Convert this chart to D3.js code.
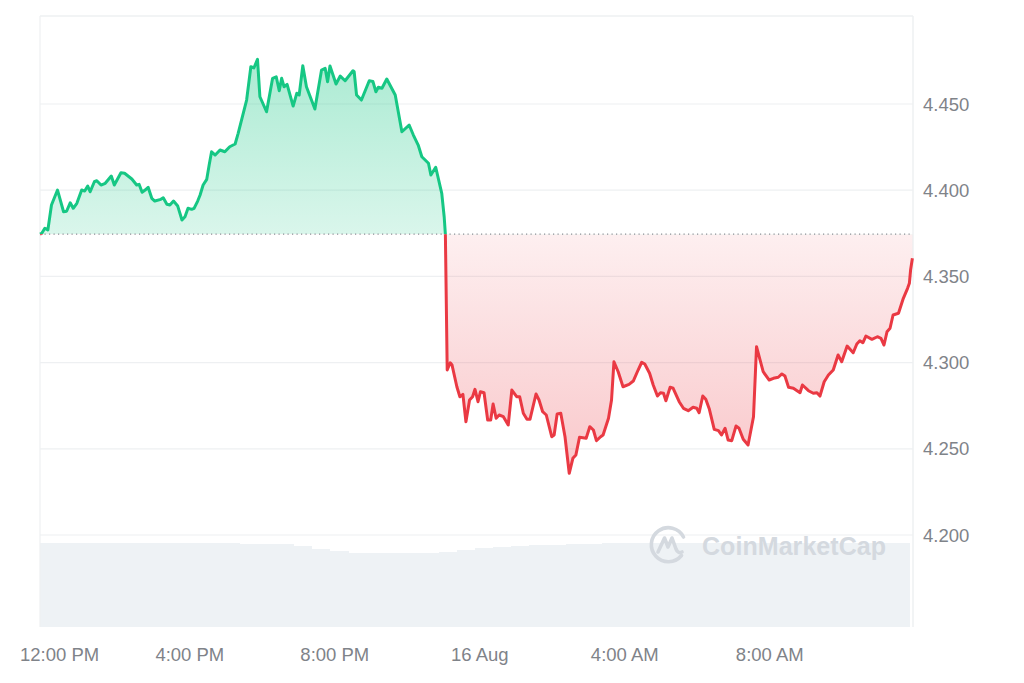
<!DOCTYPE html>
<html>
<head>
<meta charset="utf-8">
<script src="https://cdnjs.cloudflare.com/ajax/libs/d3/7.8.5/d3.min.js"></script>
<style>
  html, body { margin: 0; padding: 0; background: #fff; }
  svg { display: block; }
  text { font-family: "Liberation Sans", Arial, sans-serif; }
</style>
</head>
<body>
<div id="chart"></div>
<script>
// minutes after 11:52 AM, 15 Aug
const minutes = [0, 3, 8, 13, 19, 29, 39, 44, 50, 55, 61, 69, 74, 79, 83, 90, 94, 101, 108, 118,
    123, 134, 140, 152, 160, 164, 169, 174, 179, 185, 190, 200, 204, 210, 215, 221, 228, 235, 240, 245,
    251, 255, 261, 265, 270, 276, 280, 284, 290, 298, 306, 314, 323, 328, 342, 349, 354, 360, 364, 375,
    385, 391, 396, 400, 404, 409, 419, 425, 429, 435, 441, 455, 466, 472, 476, 480, 490, 497, 505, 518,
    520, 524, 532, 545, 551, 556, 560, 566, 574, 588, 599, 611, 618, 626, 632, 643, 647, 655, 665, 669,
    671, 674, 679, 682, 690, 695, 700, 705, 711, 716, 720, 725, 729, 735, 741, 746, 750, 755, 760, 767,
    775, 781, 789, 794, 800, 806, 811, 821, 826, 832, 838, 847, 851, 856, 862, 869, 876, 882, 887, 893,
    904, 910, 916, 921, 928, 932, 941, 946, 950, 957, 965, 975, 982, 990, 996, 1001, 1009, 1015, 1022, 1027,
    1032, 1036, 1043, 1048, 1058, 1065, 1073, 1081, 1087, 1091, 1097, 1102, 1108, 1116, 1123, 1128, 1134, 1139, 1145, 1152,
    1157, 1164, 1172, 1181, 1186, 1197, 1207, 1214, 1222, 1228, 1233, 1239, 1247, 1258, 1262, 1272, 1280, 1286, 1291, 1298,
    1305, 1313, 1321, 1327, 1336, 1346, 1352, 1357, 1362, 1367, 1377, 1386, 1392, 1397, 1402, 1407, 1412, 1421, 1429, 1436,
    1439, 1441, 1444];

const prices = [4.3745, 4.3750, 4.3779, 4.3769, 4.3914, 4.4001, 4.3875, 4.3878, 4.3927, 4.3895, 4.3924, 4.4001, 4.3995, 4.4024, 4.3991, 4.4049, 4.4055, 4.4030, 4.4040, 4.4082,
    4.4030, 4.4101, 4.4098, 4.4065, 4.4030, 4.4034, 4.3988, 4.4001, 4.4017, 4.3953, 4.3937, 4.3947, 4.3956, 4.3918, 4.3914, 4.3937, 4.3908, 4.3827, 4.3846, 4.3895,
    4.3889, 4.3895, 4.3937, 4.3972, 4.4030, 4.4063, 4.4146, 4.4223, 4.4204, 4.4233, 4.4223, 4.4252, 4.4268, 4.4330, 4.4523, 4.4716, 4.4709, 4.4759, 4.4542, 4.4455,
    4.4649, 4.4658, 4.4577, 4.4649, 4.4600, 4.4614, 4.4488, 4.4562, 4.4552, 4.4722, 4.4600, 4.4471, 4.4697, 4.4707, 4.4629, 4.4720, 4.4616, 4.4662, 4.4635, 4.4693,
    4.4687, 4.4552, 4.4523, 4.4635, 4.4631, 4.4571, 4.4597, 4.4591, 4.4645, 4.4552, 4.4339, 4.4378, 4.4320, 4.4262, 4.4194, 4.4156, 4.4088, 4.4133, 4.3982, 4.3846,
    4.3744, 4.2957, 4.2999, 4.2986, 4.2860, 4.2802, 4.2816, 4.2657, 4.2783, 4.2802, 4.2845, 4.2773, 4.2831, 4.2825, 4.2667, 4.2667, 4.2760, 4.2677, 4.2696, 4.2686,
    4.2638, 4.2841, 4.2802, 4.2802, 4.2706, 4.2671, 4.2671, 4.2818, 4.2783, 4.2715, 4.2696, 4.2570, 4.2580, 4.2702, 4.2706, 4.2570, 4.2358, 4.2445, 4.2464, 4.2567,
    4.2561, 4.2628, 4.2609, 4.2547, 4.2570, 4.2580, 4.2677, 4.2783, 4.3005, 4.2947, 4.2860, 4.2874, 4.2893, 4.2957, 4.3002, 4.2992, 4.2938, 4.2870, 4.2806, 4.2825,
    4.2822, 4.2779, 4.2857, 4.2851, 4.2773, 4.2735, 4.2721, 4.2741, 4.2735, 4.2709, 4.2806, 4.2787, 4.2729, 4.2613, 4.2605, 4.2580, 4.2619, 4.2551, 4.2547, 4.2632,
    4.2619, 4.2555, 4.2522, 4.2686, 4.3092, 4.2947, 4.2899, 4.2909, 4.2915, 4.2934, 4.2922, 4.2857, 4.2851, 4.2825, 4.2870, 4.2837, 4.2822, 4.2825, 4.2806, 4.2889,
    4.2928, 4.2957, 4.3044, 4.3005, 4.3096, 4.3057, 4.3108, 4.3127, 4.3115, 4.3154, 4.3135, 4.3150, 4.3141, 4.3102, 4.3179, 4.3199, 4.3276, 4.3286, 4.3373, 4.3431,
    4.3460, 4.3537, 4.3605];

// 24h volume, one value per 30 minutes (arbitrary units)
const volumes = [84, 84, 84, 84, 84, 84, 84, 84, 84, 84, 84, 83.5, 83.5, 83, 81, 78.5,
    76, 74.5, 74.5, 74.5, 74.5, 74.5, 75.5, 77, 79, 80.5, 81.5, 82, 82.5, 83, 83.5, 84,
    84, 84, 84, 84, 84, 84, 84, 84, 84, 84, 84, 84, 84, 84, 84, 84];

const priceTicks = [4.200, 4.250, 4.300, 4.350, 4.400, 4.450];

const W = 1024, H = 683;
const plotLeft = 40, plotRight = 913, plotTop = 16, plotBottom = 627;
const green = "#16c784", red = "#ea3943", grey = "#7f8389", gridColor = "#eef0f2";

const start = new Date(2023, 7, 15, 11, 52);
const end = new Date(+start + 1445 * 60000);
const data = minutes.map((m, i) => ({ t: new Date(+start + m * 60000), p: prices[i] }));
const basePrice = prices[0];

const svg = d3.select("#chart").append("svg")
    .attr("width", W)
    .attr("height", H);

const x = d3.scaleTime().domain([start, end]).range([plotLeft, plotRight]);
const y = d3.scaleLinear().domain([4.2, 4.45]).range([535, 104]);
const yVol = d3.scaleLinear().domain([0, 100]).range([plotBottom, plotBottom - 100]);
const baseY = y(basePrice);

// volume bars
const binStart = i => new Date(+start + i * 30 * 60000);
svg.append("g")
    .selectAll("rect")
    .data(volumes)
    .join("rect")
    .attr("x", (d, i) => x(binStart(i)))
    .attr("width", (d, i) => x(binStart(i + 1)) - x(binStart(i)) + 0.5)
    .attr("y", d => yVol(d))
    .attr("height", d => plotBottom - yVol(d))
    .attr("fill", "#eef2f5")
    .attr("shape-rendering", "crispEdges");

// frame + grid
svg.append("g")
    .selectAll("line")
    .data(priceTicks)
    .join("line")
    .attr("x1", plotLeft).attr("x2", plotRight)
    .attr("y1", d => y(d)).attr("y2", d => y(d))
    .attr("stroke", gridColor)
    .attr("stroke-width", 1.2);

svg.append("line").attr("x1", plotLeft).attr("x2", plotRight).attr("y1", plotTop).attr("y2", plotTop)
    .attr("stroke", gridColor).attr("stroke-width", 1.5);
svg.append("line").attr("x1", plotLeft).attr("x2", plotLeft).attr("y1", plotTop).attr("y2", plotBottom)
    .attr("stroke", gridColor).attr("stroke-width", 1.2);
svg.append("line").attr("x1", plotRight).attr("x2", plotRight).attr("y1", plotTop).attr("y2", plotBottom)
    .attr("stroke", gridColor).attr("stroke-width", 1.5);

// watermark
const wm = svg.append("g").attr("transform", "translate(668,544)");
wm.append("path")
    .attr("d", "M 13.5 11.5 A 17 17 0 1 1 15.5 -7")
    .attr("fill", "none").attr("stroke", "#d4d9df").attr("stroke-width", 3.6)
    .attr("stroke-linecap", "round");
wm.append("path")
    .attr("d", "M -10 8 L -3.5 -6 L 0 3 L 4 -6 L 8 5 Q 10 10 14 8")
    .attr("fill", "none").attr("stroke", "#d4d9df").attr("stroke-width", 3.6)
    .attr("stroke-linejoin", "round").attr("stroke-linecap", "round");
svg.append("text")
    .attr("x", 702).attr("y", 555)
    .attr("font-size", 25).attr("font-weight", "bold")
    .attr("textLength", 184)
    .attr("fill", "#d4d9df")
    .text("CoinMarketCap");

// gradients
const defs = svg.append("defs");
const yMax = y(d3.max(prices)), yMin = y(d3.min(prices));
const gUp = defs.append("linearGradient").attr("id", "gUp")
    .attr("gradientUnits", "userSpaceOnUse").attr("x1", 0).attr("x2", 0).attr("y1", yMax).attr("y2", baseY);
gUp.append("stop").attr("offset", 0).attr("stop-color", green).attr("stop-opacity", 0.36);
gUp.append("stop").attr("offset", 1).attr("stop-color", green).attr("stop-opacity", 0.16);
const gDown = defs.append("linearGradient").attr("id", "gDown")
    .attr("gradientUnits", "userSpaceOnUse").attr("x1", 0).attr("x2", 0).attr("y1", baseY).attr("y2", yMin);
gDown.append("stop").attr("offset", 0).attr("stop-color", red).attr("stop-opacity", 0.08);
gDown.append("stop").attr("offset", 1).attr("stop-color", red).attr("stop-opacity", 0.28);

defs.append("clipPath").attr("id", "clipUp")
    .append("rect").attr("x", 0).attr("y", 0).attr("width", W).attr("height", baseY);
defs.append("clipPath").attr("id", "clipDown")
    .append("rect").attr("x", 0).attr("y", baseY).attr("width", W).attr("height", H - baseY);

const area = d3.area().x(d => x(d.t)).y0(baseY).y1(d => y(d.p));
const line = d3.line().x(d => x(d.t)).y(d => y(d.p));

svg.append("path").datum(data).attr("d", area)
    .attr("fill", "url(#gUp)").attr("clip-path", "url(#clipUp)");
svg.append("path").datum(data).attr("d", area)
    .attr("fill", "url(#gDown)").attr("clip-path", "url(#clipDown)");

// dotted reference at the opening price
svg.append("line")
    .attr("x1", plotLeft).attr("x2", plotRight)
    .attr("y1", baseY).attr("y2", baseY)
    .attr("stroke", "#8a8f96").attr("stroke-width", 1.2)
    .attr("stroke-dasharray", "1.2,3.3");

svg.append("path").datum(data).attr("d", line)
    .attr("fill", "none").attr("stroke", green).attr("stroke-width", 3)
    .attr("stroke-linejoin", "round").attr("clip-path", "url(#clipUp)");
svg.append("path").datum(data).attr("d", line)
    .attr("fill", "none").attr("stroke", red).attr("stroke-width", 3)
    .attr("stroke-linejoin", "round").attr("clip-path", "url(#clipDown)");

// right price axis
svg.append("g")
    .selectAll("text")
    .data(priceTicks)
    .join("text")
    .attr("x", 923)
    .attr("y", d => y(d))
    .attr("dy", "0.36em")
    .attr("font-size", 18.5)
    .attr("fill", grey)
    .text(d3.format(".3f"));

// bottom time axis
const fmtHour = d3.timeFormat("%-I:%M %p"), fmtDay = d3.timeFormat("%-d %b");
const timeTicks = x.ticks(d3.timeHour.every(4));
const labels = svg.append("g")
    .selectAll("text")
    .data(timeTicks)
    .join("text")
    .attr("x", d => x(d))
    .attr("y", 661)
    .attr("text-anchor", "middle")
    .attr("font-size", 18.5)
    .attr("fill", grey)
    .text(d => d.getHours() === 0 ? fmtDay(d) : fmtHour(d));

// keep the first label inside the frame
labels.each(function () {
    const b = this.getBBox();
    if (b.x < 20) d3.select(this).attr("x", +d3.select(this).attr("x") + (20 - b.x));
});
</script>
</body>
</html>
